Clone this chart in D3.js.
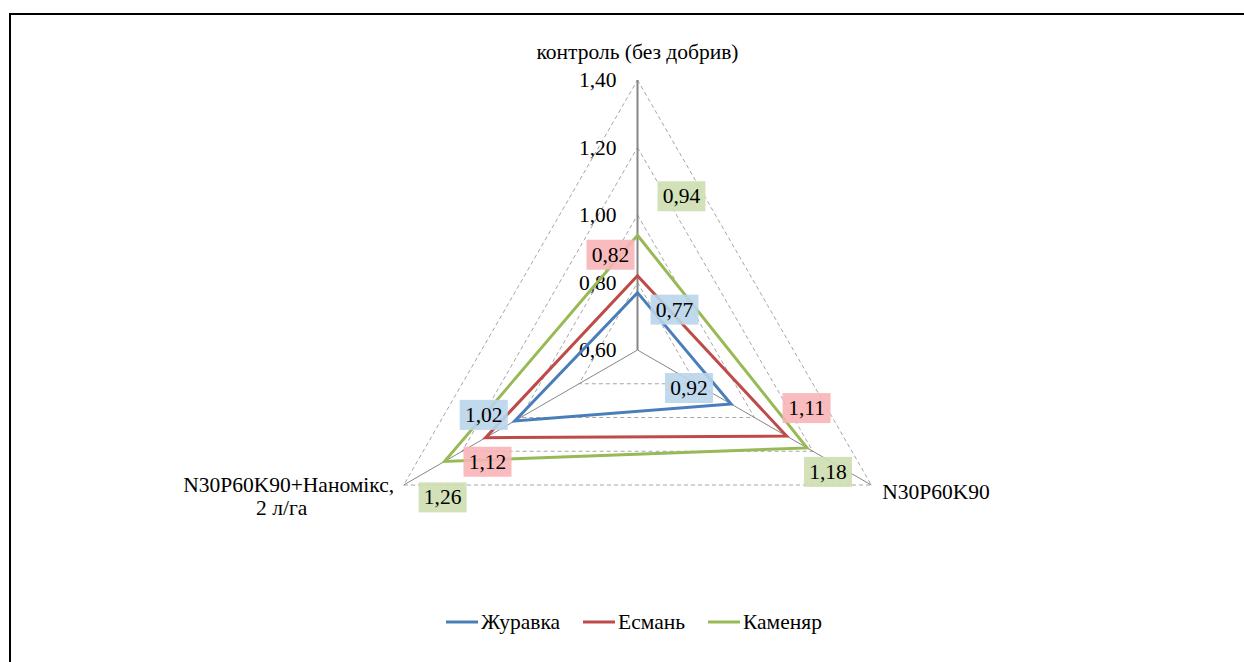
<!DOCTYPE html>
<html>
<head>
<meta charset="utf-8">
<script src="https://cdn.jsdelivr.net/npm/d3@7/dist/d3.min.js"></script>
</head>
<body style="margin:0">
<svg id="s" width="1244" height="662"></svg>
<script>
// Axes of the radar (treatments)
const categories = ["контроль (без добрив)", "N30P60K90", "N30P60K90+Наномікс, 2 л/га"];
// Varieties
const seriesNames = ["Журавка", "Есмань", "Каменяр"];
const zhuravka = [0.77, 0.92, 1.02];
const esman = [0.82, 1.11, 1.12];
const kamenyar = [0.94, 1.18, 1.26];
const tickValues = [0.60, 0.80, 1.00, 1.20, 1.40];

const seriesValues = [zhuravka, esman, kamenyar];
const colors = ["#4a7ebb", "#be4b48", "#98b954"];
const labelFills = ["#b9d5ea", "#f8b4b6", "#cddeaf"];
// label offsets from the vertex, per series / per axis
const labelOffsets = [
  [[37, 17], [-42, -16], [-31, -6]],
  [[-27, -21], [20, -28], [2, 24]],
  [[44, -39], [21, 24], [-2, 36]]
];

const svg = d3.select("#s");
const fmt = v => d3.format(".2f")(v).replace(".", ",");
const addText = (sel) => sel.append("text").style("font-family", "Times New Roman")
  .attr("font-size", 21.5);

// frame
svg.append("line").attr("x1", 10).attr("y1", 14).attr("x2", 1244).attr("y2", 14)
  .attr("stroke", "#000").attr("stroke-width", 2);
svg.append("line").attr("x1", 10).attr("y1", 13).attr("x2", 10).attr("y2", 662)
  .attr("stroke", "#000").attr("stroke-width", 2);

const cx = 637.5, cy = 350, R = 270;
const r = d3.scaleLinear().domain([0.6, 1.4]).range([0, R]);
const angle = i => -Math.PI / 2 + i * 2 * Math.PI / categories.length;
const pt = (i, v) => [cx + r(v) * Math.cos(angle(i)), cy + r(v) * Math.sin(angle(i))];

// dashed grid triangles
tickValues.slice(1).forEach(t => {
  const pts = categories.map((c, i) => pt(i, t));
  svg.append("path")
    .attr("d", d3.line()(pts) + "Z")
    .attr("fill", "none").attr("stroke", "#a6a6a6")
    .attr("stroke-width", 1).attr("stroke-dasharray", "4,3");
});

// spokes
categories.forEach((c, i) => {
  const [x, y] = pt(i, 1.4);
  svg.append("line").attr("x1", cx).attr("y1", cy).attr("x2", x).attr("y2", y)
    .attr("stroke", "#868686").attr("stroke-width", i === 0 ? 2 : 1);
});

// value axis tick labels
tickValues.forEach(t => {
  addText(svg).attr("x", cx - 21).attr("y", cy - r(t) + 7)
    .attr("text-anchor", "end").text(fmt(t));
});

// category labels
addText(svg).attr("x", cx).attr("y", 59).attr("text-anchor", "middle").text(categories[0]);
{
  const [x, y] = pt(1, 1.4);
  addText(svg).attr("x", x + 11).attr("y", y + 14).attr("text-anchor", "start").text(categories[1]);
}
{
  const [x, y] = pt(2, 1.4);
  const t = addText(svg).attr("text-anchor", "middle");
  t.append("tspan").attr("x", x - 115).attr("y", y + 7).text("N30P60K90+Наномікс,");
  t.append("tspan").attr("x", x - 122).attr("y", y + 30).text("2 л/га");
}

// series polygons
seriesValues.forEach((vals, s) => {
  const pts = vals.map((v, i) => pt(i, v));
  svg.append("path").attr("d", d3.line()(pts) + "Z")
    .attr("fill", "none").attr("stroke", colors[s]).attr("stroke-width", 3)
    .attr("stroke-linejoin", "miter");
});

// data labels
seriesValues.forEach((vals, s) => {
  vals.forEach((v, i) => {
    const [x, y] = pt(i, v);
    const [dx, dy] = labelOffsets[s][i];
    const g = svg.append("g").attr("transform", `translate(${x + dx},${y + dy})`);
    g.append("rect").attr("x", -24).attr("y", -15).attr("width", 48).attr("height", 30)
      .attr("fill", labelFills[s]).attr("opacity", 0.9);
    addText(g).attr("text-anchor", "middle").attr("y", 7).text(fmt(v));
  });
});

// legend
const legendX = [446, 583, 708];
seriesNames.forEach((n, s) => {
  const x = legendX[s];
  svg.append("line").attr("x1", x).attr("x2", x + 32).attr("y1", 622).attr("y2", 622)
    .attr("stroke", colors[s]).attr("stroke-width", 3);
  addText(svg).attr("x", x + 35).attr("y", 629).text(n);
});
</script>
</body>
</html>
